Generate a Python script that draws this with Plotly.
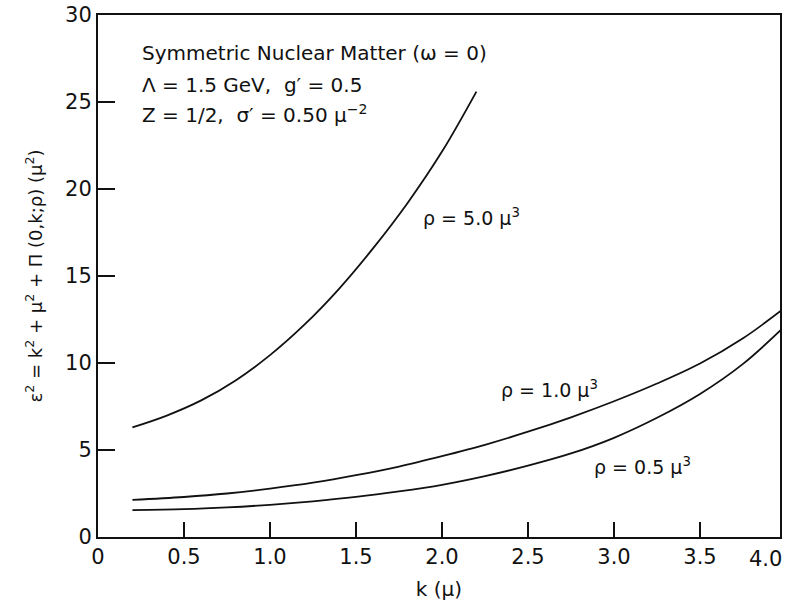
import plotly.graph_objects as go

# ---- data ----
k_rho5 = [0.2, 0.4, 0.6, 0.8, 1.0, 1.2, 1.4, 1.6, 1.8, 2.0, 2.2]
e2_rho5 = [6.3, 6.98, 7.85, 9.0, 10.45, 12.2, 14.25, 16.6, 19.2, 22.15, 25.6]

k_rho1 = [0.2, 0.5, 0.75, 1.0, 1.25, 1.5, 1.75, 2.0, 2.25, 2.5, 2.75, 3.0, 3.25, 3.5, 3.75, 3.97]
e2_rho1 = [2.13, 2.3, 2.5, 2.78, 3.12, 3.55, 4.05, 4.65, 5.3, 6.05, 6.88, 7.8, 8.82, 9.97, 11.42, 13.0]

k_rho05 = [0.2, 0.5, 0.75, 1.0, 1.25, 1.5, 1.75, 2.0, 2.25, 2.5, 2.75, 3.0, 3.25, 3.5, 3.75, 3.97]
e2_rho05 = [1.55, 1.6, 1.7, 1.85, 2.05, 2.3, 2.62, 3.0, 3.5, 4.1, 4.8, 5.7, 6.85, 8.22, 9.95, 11.9]

x_tickvals = [0, 0.5, 1.0, 1.5, 2.0, 2.5, 3.0, 3.5]
x_ticktext = ["0", "0.5", "1.0", "1.5", "2.0", "2.5", "3.0", "3.5"]
y_tickvals = [0, 5, 10, 15, 20, 25, 30]

FONT = "DejaVu Sans"
INK = "#111111"

fig = go.Figure()
for xs, ys in [(k_rho5, e2_rho5), (k_rho1, e2_rho1), (k_rho05, e2_rho05)]:
    fig.add_trace(go.Scatter(x=xs, y=ys, mode="lines",
                             line=dict(color=INK, width=1.8, shape="spline", smoothing=1.0),
                             showlegend=False, hoverinfo="skip"))

ann_font = dict(family=FONT, size=20, color=INK)
x0 = (140 - 98) / 684
fig.add_annotation(xref="paper", yref="paper", x=x0, y=1 - (50 - 12) / 525,
                   xanchor="left", yanchor="middle", showarrow=False,
                   text="Symmetric Nuclear Matter (ω = 0)", font=ann_font)
fig.add_annotation(xref="paper", yref="paper", x=x0, y=1 - (82 - 12) / 525,
                   xanchor="left", yanchor="middle", showarrow=False,
                   text="Λ = 1.5 GeV,  g′ = 0.5", font=ann_font)
fig.add_annotation(xref="paper", yref="paper", x=x0, y=1 - (112 - 12) / 525,
                   xanchor="left", yanchor="middle", showarrow=False,
                   text="Z = 1/2,  σ′ = 0.50 μ<sup>−2</sup>", font=ann_font)

lab_font = dict(family=FONT, size=19, color=INK)
fig.add_annotation(x=1.878, y=18.4, xanchor="left", yanchor="middle", showarrow=False,
                   text="ρ = 5.0 μ<sup>3</sup>", font=lab_font)
fig.add_annotation(x=2.33, y=8.5, xanchor="left", yanchor="middle", showarrow=False,
                   text="ρ = 1.0 μ<sup>3</sup>", font=lab_font)
fig.add_annotation(x=2.87, y=4.1, xanchor="left", yanchor="middle", showarrow=False,
                   text="ρ = 0.5 μ<sup>3</sup>", font=lab_font)

TICK_SIZE = 21
# tick label at the clipped right end of the k axis
fig.add_annotation(xref="paper", yref="paper", x=(786 - 98) / 684, y=-(559 - 537) / 525,
                   xanchor="right", yanchor="middle", showarrow=False,
                   text="4.0", font=dict(family=FONT, size=TICK_SIZE, color=INK))

fig.update_layout(
    width=785, height=603,
    margin=dict(l=98, r=3, t=12, b=66),
    paper_bgcolor="white", plot_bgcolor="white",
    font=dict(family=FONT, color=INK),
)
fig.update_xaxes(
    range=[0, 3.965], tickvals=x_tickvals, ticktext=x_ticktext,
    ticks="inside", ticklen=15, tickwidth=2, tickcolor=INK,
    showline=True, linewidth=2, linecolor=INK, mirror=True,
    showgrid=False, zeroline=False,
    tickfont=dict(family=FONT, size=TICK_SIZE, color=INK),
    title=dict(text="k (μ)", font=dict(family=FONT, size=20, color=INK), standoff=14),
)
fig.update_yaxes(
    range=[0, 30], tickvals=y_tickvals,
    ticks="inside", ticklen=17, tickwidth=2, tickcolor=INK,
    showline=True, linewidth=2, linecolor=INK, mirror=True,
    showgrid=False, zeroline=False,
    tickfont=dict(family=FONT, size=TICK_SIZE, color=INK),
    title=dict(text="ε<sup>2</sup> = k<sup>2</sup> + μ<sup>2</sup> + Π (0,k;ρ) (μ<sup>2</sup>)",
               font=dict(family=FONT, size=18, color=INK), standoff=18),
)

fig.write_html("out.html")
